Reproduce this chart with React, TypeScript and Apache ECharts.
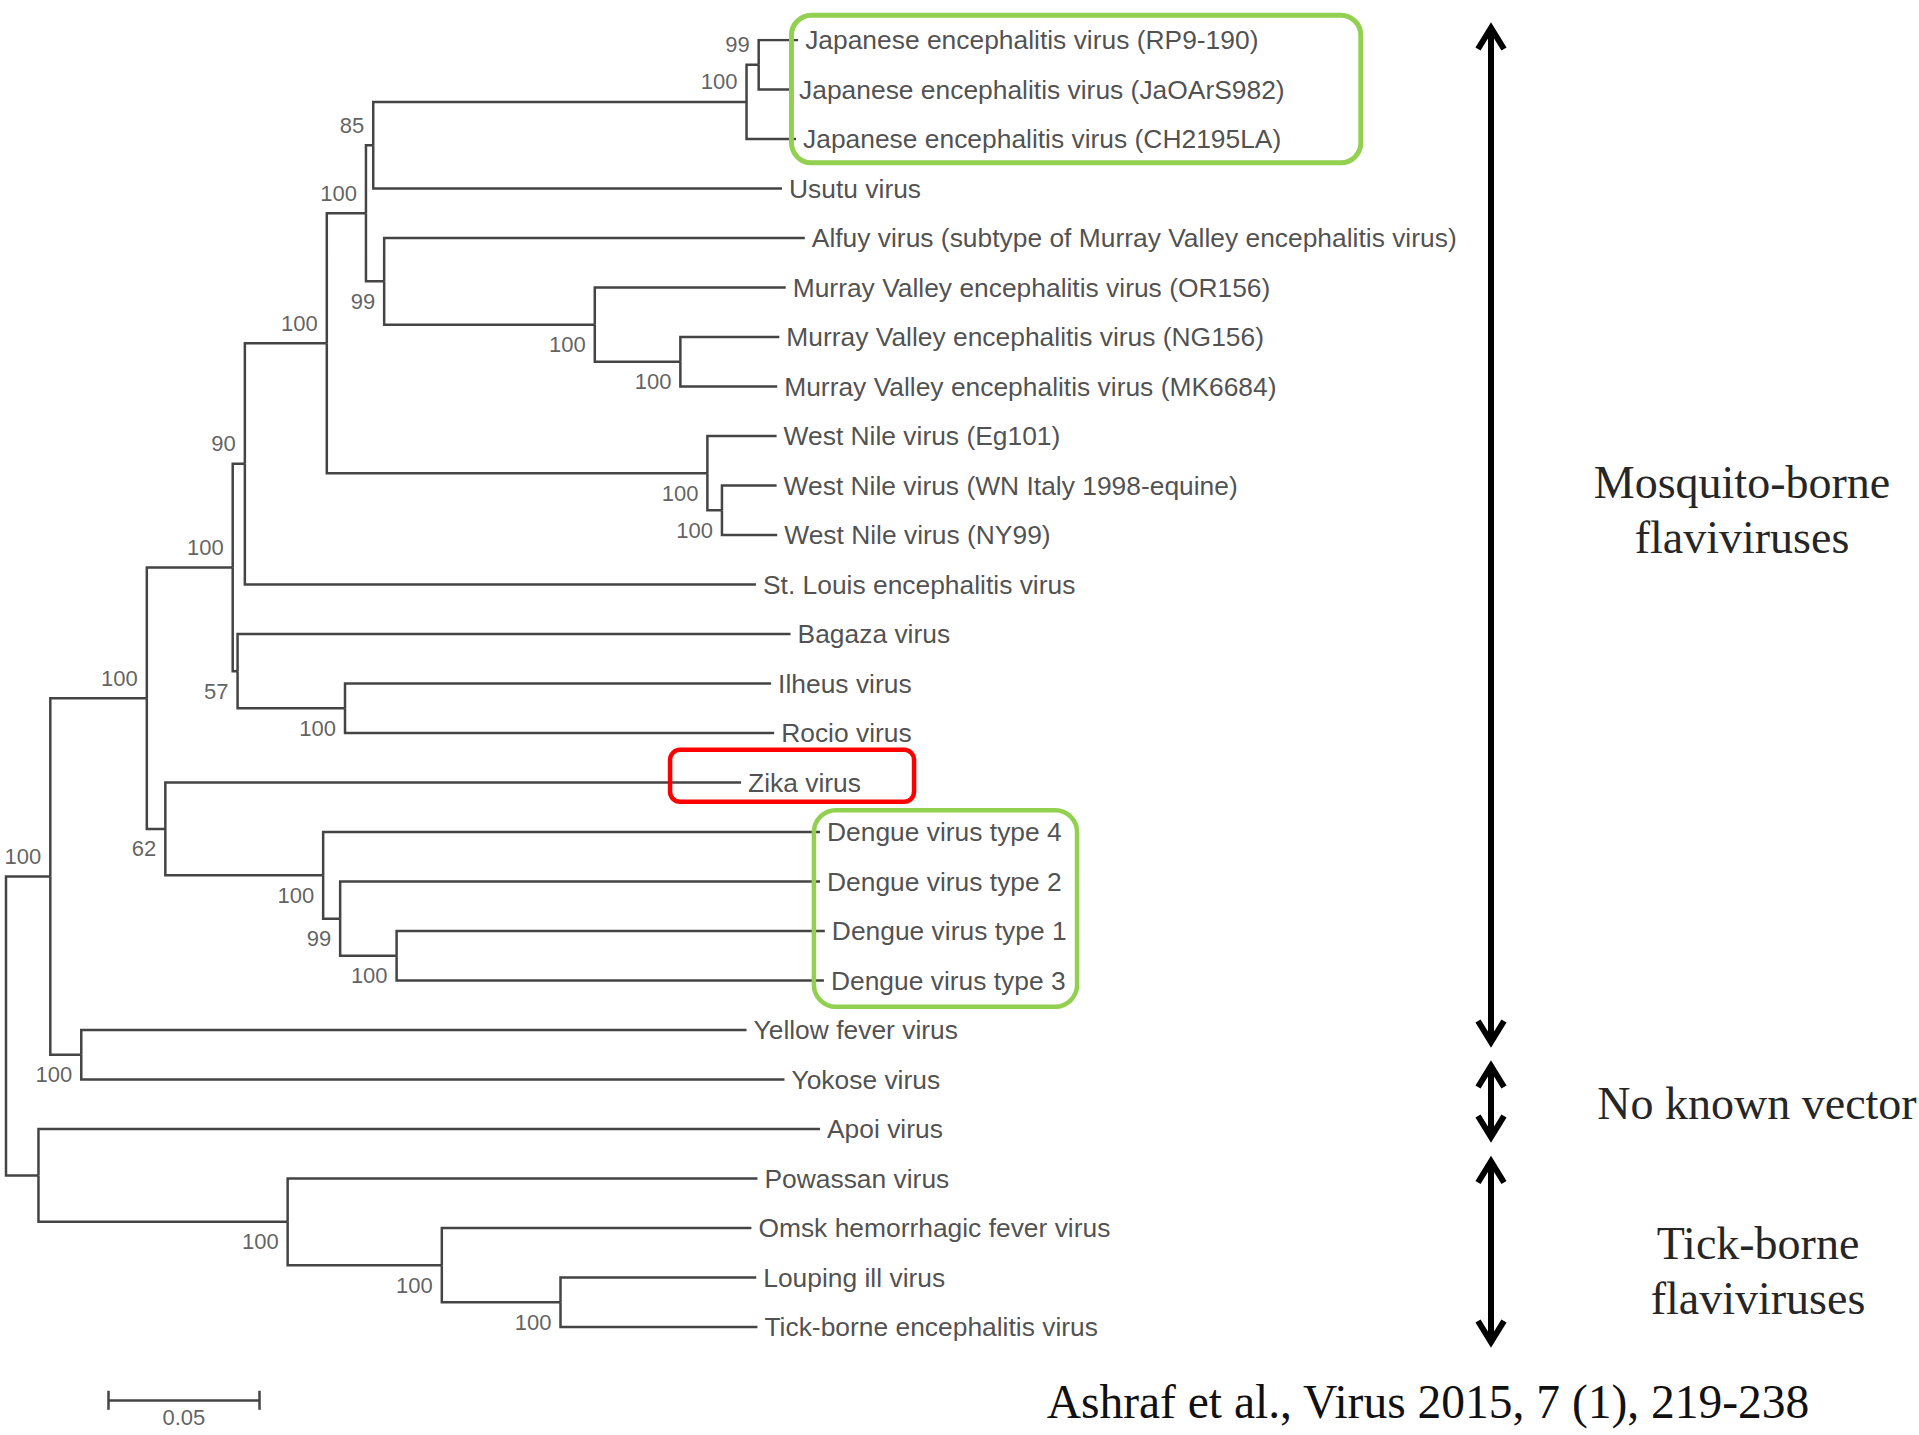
import React, { useEffect, useRef } from 'react';
import * as echarts from 'echarts';

// ---- Tree data (branch lengths in substitutions/site, measured from the root) ----
const leafNames = [
  'Japanese encephalitis virus (RP9-190)',
  'Japanese encephalitis virus (JaOArS982)',
  'Japanese encephalitis virus (CH2195LA)',
  'Usutu virus',
  'Alfuy virus (subtype of Murray Valley encephalitis virus)',
  'Murray Valley encephalitis virus (OR156)',
  'Murray Valley encephalitis virus (NG156)',
  'Murray Valley encephalitis virus (MK6684)',
  'West Nile virus (Eg101)',
  'West Nile virus (WN Italy 1998-equine)',
  'West Nile virus (NY99)',
  'St. Louis encephalitis virus',
  'Bagaza virus',
  'Ilheus virus',
  'Rocio virus',
  'Zika virus',
  'Dengue virus type 4',
  'Dengue virus type 2',
  'Dengue virus type 1',
  'Dengue virus type 3',
  'Yellow fever virus',
  'Yokose virus',
  'Apoi virus',
  'Powassan virus',
  'Omsk hemorrhagic fever virus',
  'Louping ill virus',
  'Tick-borne encephalitis virus',
];
const leafDepth = [
  0.2610, 0.2590, 0.2603, 0.2557, 0.2632, 0.2569, 0.2548, 0.2541, 0.2539, 0.2539,
  0.2541, 0.2471, 0.2585, 0.2521, 0.2531, 0.2422, 0.2682, 0.2682, 0.2698, 0.2695,
  0.2440, 0.2565, 0.2682, 0.2476, 0.2456, 0.2472, 0.2476,
];
const leafParent = [
  'JEV12', 'JEV12', 'JEV', 'F', 'I', 'MVE', 'MVE2', 'MVE2', 'WNV', 'WNV2',
  'WNV2', 'J', 'E', 'IR', 'IR', 'K', 'L', 'M', 'N', 'N',
  'O', 'O', 'P', 'Q', 'S', 'T', 'T',
];
const nodeNames = [
  'root', 'A', 'B', 'C', 'J', 'H', 'G', 'F', 'JEV', 'JEV12', 'I', 'MVE', 'MVE2',
  'WNV', 'WNV2', 'E', 'IR', 'K', 'L', 'M', 'N', 'O', 'P', 'Q', 'S', 'T',
];
const nodeParent = [
  '', 'root', 'A', 'B', 'C', 'J', 'H', 'G', 'F', 'JEV', 'G', 'I', 'MVE',
  'H', 'WNV', 'C', 'E', 'B', 'K', 'L', 'M', 'A', 'root', 'P', 'Q', 'S',
];
const nodeDepth = [
  0, 0.0146, 0.0464, 0.0747, 0.0787, 0.1057, 0.1186, 0.1210, 0.2440, 0.2480, 0.1246, 0.1940, 0.2222,
  0.2311, 0.2359, 0.0763, 0.1117, 0.0525, 0.1045, 0.1101, 0.1287, 0.0248, 0.0107, 0.0928, 0.1436, 0.1827,
];
const nodeSupport = [
  null, 100, 100, 100, 90, 100, 100, 85, 100, 99, 99, 100, 100,
  100, 100, 57, 100, 62, 100, 99, 100, 100, null, 100, 100, 100,
];
const scaleBarValue = 0.05;
const scaleBarLabel = '0.05';
const groupLines = [['Mosquito-borne', 'flaviviruses'], ['No known vector'], ['Tick-borne', 'flaviviruses']];
const groupRows = [[0, 20], [21, 22], [23, 26]];
const citation = 'Ashraf et al., Virus 2015, 7 (1), 219-238';

const SANS = '"Liberation Sans", Arial, Helvetica, sans-serif';
const SERIF = '"Liberation Serif", "Times New Roman", serif';

function buildTree() {
  const idx: Record<string, number> = {};
  nodeNames.forEach((n, i) => (idx[n] = i));
  const nodeY: number[] = new Array(nodeNames.length).fill(NaN);
  const childYs = (name: string): number[] => {
    const ys: number[] = [];
    leafParent.forEach((p, i) => { if (p === name) ys.push(i); });
    nodeParent.forEach((p, j) => { if (p === name) ys.push(calc(j)); });
    return ys;
  };
  const calc = (j: number): number => {
    if (!isNaN(nodeY[j])) return nodeY[j];
    const ys = childYs(nodeNames[j]);
    nodeY[j] = (Math.min(...ys) + Math.max(...ys)) / 2;
    return nodeY[j];
  };
  nodeNames.forEach((_, j) => calc(j));
  const edges: number[][][] = [];
  leafParent.forEach((p, i) => {
    const pj = idx[p];
    edges.push([[nodeDepth[pj], nodeY[pj]], [nodeDepth[pj], i], [leafDepth[i], i]]);
  });
  nodeParent.forEach((p, j) => {
    if (!p) return;
    const pj = idx[p];
    edges.push([[nodeDepth[pj], nodeY[pj]], [nodeDepth[pj], nodeY[j]], [nodeDepth[j], nodeY[j]]]);
  });
  const support: any[] = [];
  nodeSupport.forEach((s, j) => {
    if (s == null) return;
    const pj = idx[nodeParent[j]];
    const above = nodeY[j] < nodeY[pj];
    support.push({
      value: [nodeDepth[j], nodeY[j]],
      name: String(s),
      label: { offset: [0, above ? -20 : 20] },
    });
  });
  return { edges, support };
}

export default function App() {
  const ref = useRef<HTMLDivElement>(null);
  useEffect(() => {
    if (!ref.current) return;
    const chart = echarts.init(ref.current, undefined, { renderer: 'svg' });
    const { edges, support } = buildTree();
    const sbStart = 0.0336;
    const sbY = 27.48;
    const sbTick = 0.19;
    chart.setOption({
      animation: false,
      backgroundColor: '#ffffff',
      grid: { left: 6, right: 395.5, top: 40, bottom: 9, outerBoundsMode: 'none' },
      xAxis: { type: 'value', min: 0, max: 0.5, show: false },
      yAxis: { type: 'value', min: 0, max: 28, inverse: true, show: false },
      series: [
        {
          type: 'lines',
          coordinateSystem: 'cartesian2d',
          polyline: true,
          silent: true,
          z: 2,
          lineStyle: { color: '#444444', width: 2.5, opacity: 1, join: 'miter' },
          data: edges.map((c) => ({ coords: c })),
        },
        {
          type: 'scatter',
          symbolSize: 0,
          silent: true,
          z: 3,
          data: leafNames.map((n, i) => ({ name: n, value: [leafDepth[i], i] })),
          label: {
            show: true,
            position: 'right',
            distance: 7,
            formatter: '{b}',
            fontSize: 26.4,
            fontFamily: SANS,
            color: '#222222',
          },
        },
        {
          type: 'scatter',
          symbolSize: 0,
          silent: true,
          z: 3,
          data: support,
          label: {
            show: true,
            position: 'left',
            distance: 9,
            formatter: '{b}',
            fontSize: 22,
            fontFamily: SANS,
            color: '#383838',
          },
        },
        {
          type: 'lines',
          coordinateSystem: 'cartesian2d',
          polyline: false,
          silent: true,
          lineStyle: { color: '#444444', width: 2.5, opacity: 1 },
          data: [
            { coords: [[sbStart, sbY], [sbStart + scaleBarValue, sbY]] },
            { coords: [[sbStart, sbY - sbTick], [sbStart, sbY + sbTick]] },
            { coords: [[sbStart + scaleBarValue, sbY - sbTick], [sbStart + scaleBarValue, sbY + sbTick]] },
          ],
        },
        {
          type: 'scatter',
          symbolSize: 0,
          silent: true,
          data: [{ name: scaleBarLabel, value: [sbStart + scaleBarValue / 2, sbY] }],
          label: {
            show: true,
            position: 'bottom',
            distance: 6,
            formatter: '{b}',
            fontSize: 22,
            fontFamily: SANS,
            color: '#383838',
          },
        },
      ],
    });

    const px = (x: number, y: number) => chart.convertToPixel({ gridIndex: 0 }, [x, y]) as number[];
    const box = (x0: number, x1: number, r0: number, r1: number, color: string, lw: number, rad: number) => {
      const a = px(x0, r0);
      const b = px(x1, r1);
      return {
        type: 'rect',
        z: 10,
        silent: true,
        shape: { x: a[0], y: a[1], width: b[0] - a[0], height: b[1] - a[1], r: rad },
        style: { fill: 'none', stroke: color, lineWidth: lw },
      };
    };
    const arrowX = 1491;
    const arrow = (r0: number, r1: number, d0: number, d1: number) => {
      const yT = px(0, r0)[1] - d0;
      const yB = px(0, r1)[1] + d1;
      const st = { stroke: '#000', lineWidth: 6, fill: 'none', lineJoin: 'miter', lineCap: 'butt' };
      return [
        { type: 'line', z: 10, silent: true, shape: { x1: arrowX, y1: yT + 3, x2: arrowX, y2: yB - 3 }, style: st },
        { type: 'polyline', z: 10, silent: true, shape: { points: [[arrowX - 13, yT + 24], [arrowX, yT + 3], [arrowX + 13, yT + 24]] }, style: st },
        { type: 'polyline', z: 10, silent: true, shape: { points: [[arrowX - 13, yB - 24], [arrowX, yB - 3], [arrowX + 13, yB - 24]] }, style: st },
      ];
    };
    const text = (t: string, x: number, y: number, size: number, color: string) => ({
      type: 'text',
      z: 10,
      silent: true,
      style: {
        text: t, x, y, fontSize: size, fontFamily: SERIF, fill: color,
        align: 'center', verticalAlign: 'middle', textAlign: 'center', textVerticalAlign: 'middle',
      },
    });
    const groupCenters = [[1742, 482], [1757, 1103], [1758, 1243]];
    const graphics: any[] = [
      box(0.2588, 0.4464, groupRows[0][0] - 0.5, 2 + 0.48, '#92d050', 5, 20),
      box(0.2188, 0.2992, 15 - 0.66, 15 + 0.39, '#ff0000', 4.5, 10),
      box(0.2662, 0.3529, 16 - 0.44, 19 + 0.53, '#92d050', 4.5, 22),
      ...arrow(groupRows[0][0], groupRows[0][1], 15, 15),
      ...arrow(groupRows[1][0], groupRows[1][1], 16.5, 11),
      ...arrow(groupRows[2][0], groupRows[2][1], 20, 18),
    ];
    groupLines.forEach((lines, g) => {
      lines.forEach((l, k) => {
        graphics.push(text(l, groupCenters[g][0], groupCenters[g][1] + k * 55, 46, '#262626'));
      });
    });
    graphics.push(text(citation, 1428, 1402, 47.5, '#111111'));
    chart.setOption({ graphic: graphics });

    return () => chart.dispose();
  }, []);
  return (
    <div
      ref={ref}
      style={{ position: 'fixed', left: 0, top: 0, width: 1919, height: 1435, background: '#fff' }}
    />
  );
}
